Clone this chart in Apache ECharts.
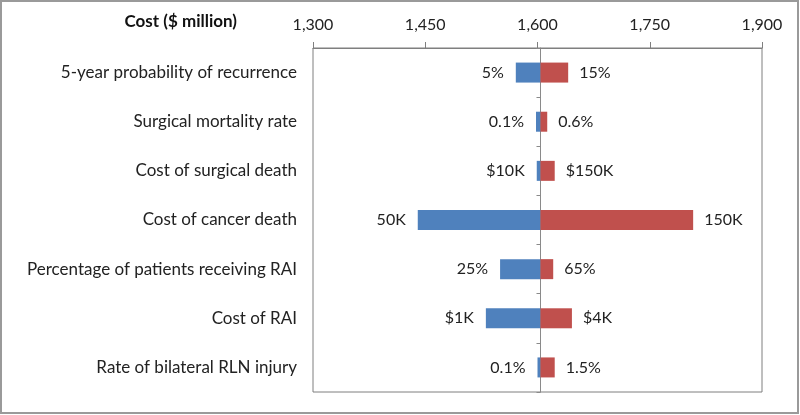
<!DOCTYPE html>
<html><head><meta charset="utf-8">
<script src="https://cdn.jsdelivr.net/npm/echarts@6/dist/echarts.min.js"></script>
<style>html,body{margin:0;padding:0;background:#fff}#c{width:800px;height:415px}</style>
</head><body><div id="c"></div>
<script>
const categories = ['5-year probability of recurrence','Surgical mortality rate','Cost of surgical death','Cost of cancer death','Percentage of patients receiving RAI','Cost of RAI','Rate of bilateral RLN injury'];
const baseCost = 1604;
const lowCost = [1571, 1598, 1599, 1440, 1550, 1531, 1600];
const highCost = [1641, 1613, 1623, 1808, 1621, 1646, 1623];
const lowLabels = ['5%','0.1%','$10K','50K','25%','$1K','0.1%'];
const highLabels = ['15%','0.6%','$150K','150K','65%','$4K','1.5%'];
const xMin = 1300, xMax = 1900, xInterval = 150;
const axisTitle = 'Cost ($ million)';

const FONT = 'Lato';
const gridLeft = 313, gridRight = 38, gridWidth = 800 - gridLeft - gridRight;
const chart = echarts.init(document.getElementById('c'));
chart.setOption({
  animation: false,
  textStyle: {fontFamily: FONT},
  title: {text: axisTitle, right: 563, top: 13, padding: 0, textStyle: {fontFamily: FONT, fontWeight: 'bold', fontSize: 17, color: '#111'}},
  graphic: [{type:'rect', shape:{x:1,y:1,width:797,height:412}, style:{fill:'none', stroke:'#9a9a9a', lineWidth:2}, silent:true}],
  grid: {left: gridLeft, right: gridRight, top: 48, bottom: 23, show: true, borderColor: '#7f7f7f', borderWidth: 1},
  xAxis: {
    type: 'value', position: 'top', min: xMin, max: xMax, interval: xInterval,
    axisLine: {show: true, lineStyle: {color: '#7f7f7f'}},
    axisTick: {show: true, length: 6, lineStyle: {color: '#7f7f7f'}},
    axisLabel: {fontSize: 16, color: '#222', margin: 15, formatter: v => v.toLocaleString('en-US')},
    splitLine: {show: false}
  },
  yAxis: [{
    type: 'category', data: categories, inverse: true,
    axisLine: {show: false}, axisTick: {show: false},
    axisLabel: {fontSize: 17, color: '#222', margin: 16}
  }, {
    type: 'category', data: categories, inverse: true, position: 'left',
    offset: -(baseCost - xMin) / (xMax - xMin) * gridWidth,
    axisLine: {show: true, lineStyle: {color: '#8a8a8a'}},
    axisTick: {show: true, length: 4, lineStyle: {color: '#8a8a8a'}},
    axisLabel: {show: false}
  }],
  series: [
    {type: 'bar', stack: 'lo', data: lowCost, itemStyle: {color: 'transparent'}, barWidth: 20, barGap: '-100%', silent: true},
    {type: 'bar', stack: 'lo', data: lowCost.map(v => baseCost - v), itemStyle: {color: '#4F81BD'}, barWidth: 20, barGap: '-100%',
      label: {show: true, position: 'left', distance: 12, fontSize: 16, color: '#222', formatter: p => lowLabels[p.dataIndex]}},
    {type: 'bar', stack: 'hi', data: highCost.map(() => baseCost), itemStyle: {color: 'transparent'}, barWidth: 20, barGap: '-100%', silent: true},
    {type: 'bar', stack: 'hi', data: highCost.map(v => v - baseCost), itemStyle: {color: '#C0504D'}, barWidth: 20, barGap: '-100%',
      label: {show: true, position: 'right', distance: 11, fontSize: 16, color: '#222', formatter: p => highLabels[p.dataIndex]}}
  ]
});
</script></body></html>
